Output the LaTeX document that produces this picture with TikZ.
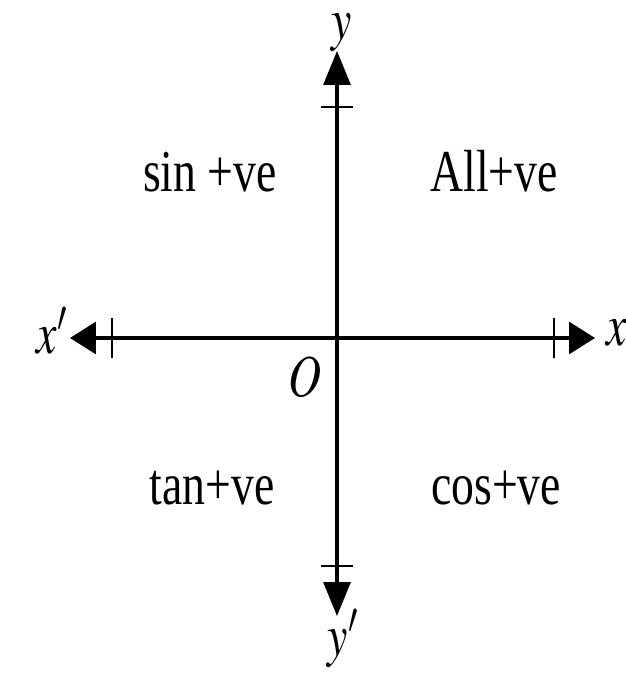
\documentclass[tikz,border=0pt]{standalone}
\usepackage{mathptmx}
\usepackage{fontspec}
\setmainfont{Liberation Serif}
\usetikzlibrary{arrows.meta}
\begin{document}
\begin{tikzpicture}[line join=round,
	lab/.style={anchor=base,yscale=1.3,font=\fontsize{26}{30}\selectfont},
	harr/.style={{Triangle[length=0.52cm,width=0.64cm]}-{Triangle[length=0.52cm,width=0.64cm]}},
	varr/.style={{Triangle[length=0.68cm,width=0.54cm]}-{Triangle[length=0.68cm,width=0.54cm]}}]
	\useasboundingbox (-6.74,-6.78) rectangle (5.76,6.76);
	\coordinate (xl) at (-5.34,0);
	\coordinate (xr) at (5.16,0);
	\coordinate (yb) at (0,-5.56);
	\coordinate (yt) at (0,5.74);
	\draw[harr,line width=1.8pt] (xl)--(xr);
	\draw[varr,line width=1.8pt] (yb)--(yt);
	\draw[line width=1.3pt] (-4.5,-0.4)--(-4.5,0.4);
	\draw[line width=1.3pt] (4.34,-0.4)--(4.34,0.4);
	\draw[line width=1.3pt] (-0.32,4.62)--(0.32,4.62);
	\draw[line width=1.3pt] (-0.32,-4.56)--(0.32,-4.56);
	\node[lab] (xlab') at (-5.7,-0.3) {$x'$};
	\node[lab,anchor=base west] (xlab) at (5.26,-0.16) {$x$};
	\node[lab,inner sep=0pt] (ylab) at (0.1,5.96) {$y$};
	\node[lab] (ylab') at (0.12,-6.34) {$y'$};
	\node[lab] (o) at (-0.64,-1.16) {$O$};
	\node[lab] (sin) at (-2.54,2.92) {sin +ve};
	\node[lab] (all) at (3.14,2.92) {All+ve};
	\node[lab] (tan) at (-2.5,-3.32) {tan+ve};
	\node[lab] (cos) at (3.18,-3.32) {cos+ve};
\end{tikzpicture}
\end{document}
